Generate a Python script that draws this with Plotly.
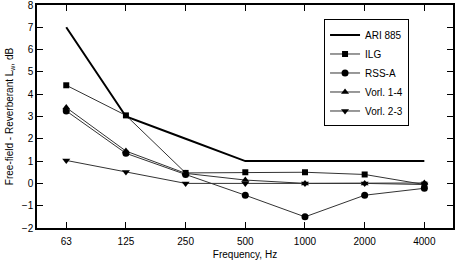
import plotly.graph_objects as go

freqs = ["63", "125", "250", "500", "1000", "2000", "4000"]
ari885 = [7.0, 3.0, 2.0, 1.0, 1.0, 1.0, 1.0]
ilg = [4.4, 3.05, 0.47, 0.5, 0.5, 0.4, -0.05]
rss_a = [3.25, 1.35, 0.4, -0.53, -1.5, -0.53, -0.22]
vorl14 = [3.4, 1.45, 0.45, 0.15, 0.0, 0.0, 0.02]
vorl23 = [1.03, 0.51, 0.0, 0.0, 0.0, 0.0, -0.05]

FONT = "Liberation Sans, Arial, sans-serif"
fig = go.Figure()
fig.add_trace(go.Scatter(x=freqs, y=ari885, name="ARI 885", mode="lines",
                         line=dict(color="black", width=2)))
series = [("ILG", ilg, "square", 6), ("RSS-A", rss_a, "circle", 7),
          ("Vorl. 1-4", vorl14, "triangle-up", 7), ("Vorl. 2-3", vorl23, "triangle-down", 7)]
for name, vals, sym, sz in series:
    fig.add_trace(go.Scatter(x=freqs, y=vals, name=name, mode="lines+markers",
                             line=dict(color="#333333", width=1),
                             marker=dict(symbol=sym, size=sz, color="black")))

fig.update_layout(
    width=460, height=260,
    margin=dict(l=37, r=7, t=5, b=32),
    paper_bgcolor="white", plot_bgcolor="white",
    font=dict(family=FONT, size=10, color="black"),
    showlegend=True,
    legend=dict(x=0.69, y=0.935, xanchor="left", yanchor="top",
                bordercolor="black", borderwidth=1, bgcolor="white",
                font=dict(size=10), tracegroupgap=0, itemwidth=30),
    xaxis=dict(type="category", range=[-0.49, 6.48], showline=True, linecolor="black",
               linewidth=1.5, mirror="ticks", ticks="inside", ticklen=6, tickcolor="black",
               showgrid=False, zeroline=False, automargin=False, ticklabelstandoff=3,
               title=dict(text="Frequency, Hz", font=dict(size=10), standoff=8),
               tickfont=dict(size=10)),
    yaxis=dict(range=[-2, 8], dtick=1, showline=True, linecolor="black", linewidth=1.5,
               mirror="ticks", ticks="inside", ticklen=6, tickcolor="black",
               showgrid=False, zeroline=False, automargin=False,
               ticklabeloverflow="allow",
               title=dict(text="Free-field - Reverberant L<sub>w</sub>, dB", font=dict(size=10), standoff=6),
               tickfont=dict(size=10)),
)
fig.write_html("out.html")
